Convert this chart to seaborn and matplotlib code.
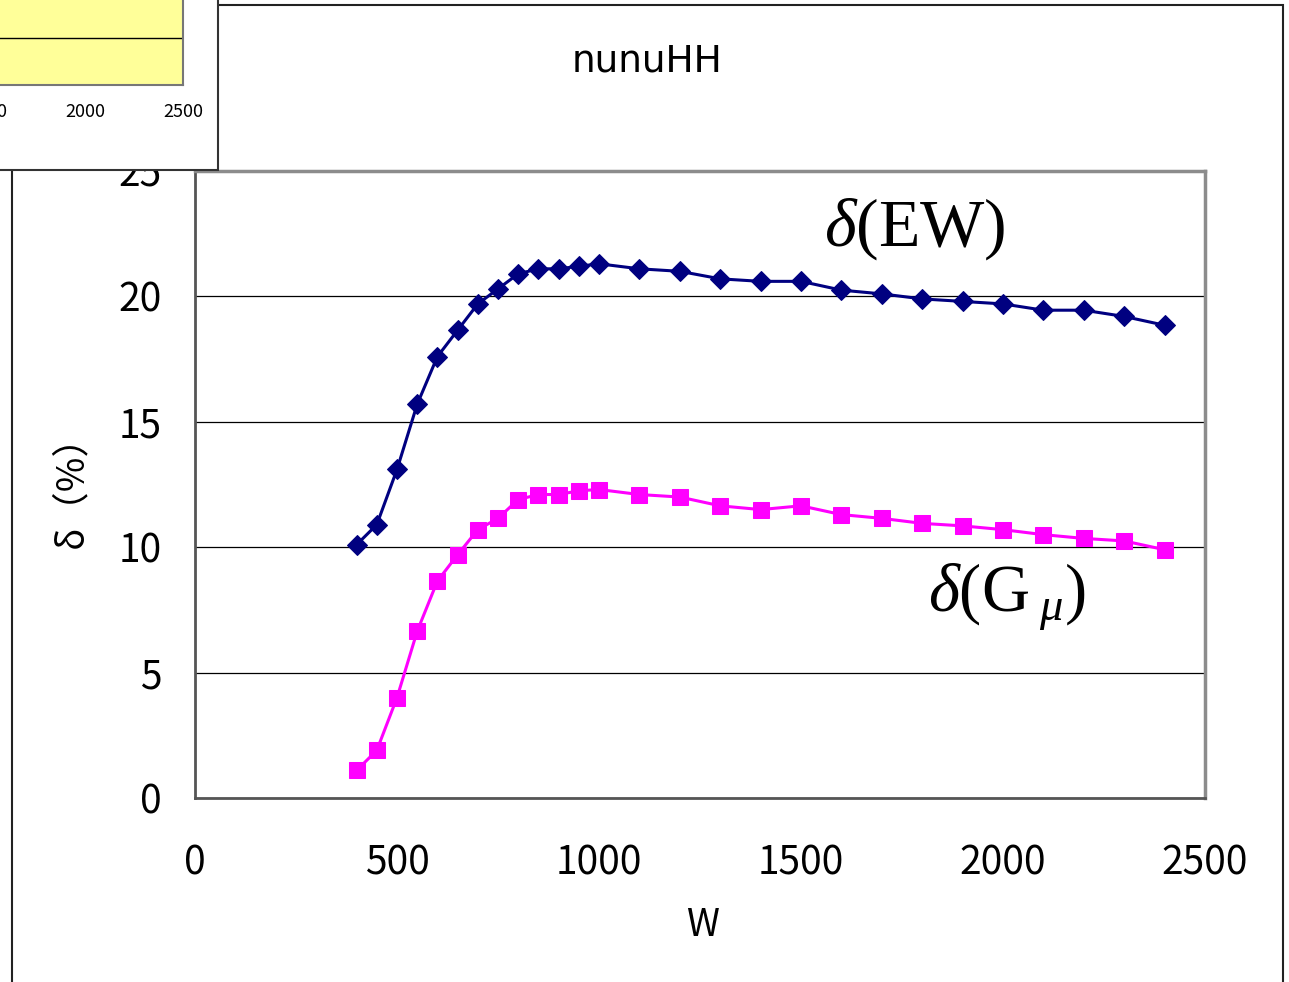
import matplotlib
matplotlib.use("Agg")
import matplotlib.pyplot as plt
from matplotlib.patches import Rectangle
import seaborn as sns
import pandas as pd

# ---- data ----
w_values = [400, 450, 500, 550, 600, 650, 700, 750, 800, 850, 900, 950, 1000,
            1100, 1200, 1300, 1400, 1500, 1600, 1700, 1800, 1900, 2000,
            2100, 2200, 2300, 2400]
delta_ew = [10.1, 10.9, 13.1, 15.7, 17.6, 18.65, 19.7, 20.3, 20.9, 21.1, 21.1, 21.2, 21.3,
            21.1, 21.0, 20.7, 20.6, 20.6, 20.25, 20.1, 19.9, 19.8, 19.7,
            19.45, 19.45, 19.2, 18.85]
delta_gmu = [1.1, 1.9, 4.0, 6.65, 8.65, 9.7, 10.7, 11.15, 11.9, 12.1, 12.1, 12.25, 12.3,
             12.1, 12.0, 11.65, 11.5, 11.65, 11.3, 11.15, 10.95, 10.85, 10.7,
             10.5, 10.35, 10.25, 9.9]
x_ticks = [0, 500, 1000, 1500, 2000, 2500]
y_ticks = [0, 5, 10, 15, 20, 25]
inset_x_ticks = [1500, 2000, 2500]
title_text = "nunuHH"
x_label = "W"
y_label = "δ（%）"

df = pd.DataFrame({"W": w_values, "EW": delta_ew, "Gmu": delta_gmu})

sns.set_style("white")
plt.rcParams["font.family"] = ["Noto Sans CJK JP", "DejaVu Sans"]
plt.rcParams["text.color"] = "black"
plt.rcParams["axes.labelcolor"] = "black"
plt.rcParams["xtick.color"] = "black"
plt.rcParams["ytick.color"] = "black"
plt.rcParams["mathtext.fontset"] = "custom"
plt.rcParams["mathtext.rm"] = "Liberation Serif"
plt.rcParams["mathtext.it"] = "Liberation Serif:italic"

W, H = 1289, 982
fig = plt.figure(figsize=(W / 100, H / 100), dpi=100)
fig.patch.set_facecolor("white")

# main axes
left, right, top, bottom = 195, 1205, 171, 798
ax = fig.add_axes([left / W, 1 - bottom / H, (right - left) / W, (bottom - top) / H])
ax.set_facecolor("white")

sns.lineplot(data=df, x="W", y="EW", ax=ax, color="#000080", marker="D",
             markersize=10, markeredgecolor="#000080", linewidth=2.2, zorder=4)
sns.lineplot(data=df, x="W", y="Gmu", ax=ax, color="#FF00FF", marker="s",
             markersize=12, markeredgecolor="#FF00FF", linewidth=2.2, zorder=4)

ax.set_xlim(0, 2500)
ax.set_ylim(0, 25)
ax.set_xticks(x_ticks)
ax.set_yticks(y_ticks)
ax.grid(axis="y", color="black", linewidth=0.9)
ax.grid(axis="x", visible=False)
ax.tick_params(axis="both", direction="in", length=10, width=1.2, color="#444444",
               labelsize=28, labelcolor="black")
ax.tick_params(axis="y", pad=24)
ax.tick_params(axis="x", pad=33)
for s in ["left", "bottom"]:
    ax.spines[s].set_color("#555555")
    ax.spines[s].set_linewidth(2)
for s in ["top", "right"]:
    ax.spines[s].set_color("#8c8c8c")
    ax.spines[s].set_linewidth(2.5)

ax.set_xlabel(x_label, fontsize=27)
ax.set_ylabel(y_label, fontsize=27)
ax.xaxis.label.set_verticalalignment("center")
ax.xaxis.set_label_coords((702 - left) / (right - left), (bottom - 925) / (bottom - top))
ax.yaxis.label.set_verticalalignment("center")
ax.yaxis.set_label_coords((72 - left) / (right - left), (bottom - 482) / (bottom - top))

ax.text(1557, 22.7, r"$\delta$(EW)", fontsize=49, family="Liberation Serif",
        ha="left", va="center")
ax.text(1815, 8.0, r"$\delta(\mathrm{G}_{\;\mu})$", fontsize=48,
        ha="left", va="center")

fig.text(647 / W, 1 - 62 / H, title_text, fontsize=27, family="DejaVu Sans",
         ha="center", va="center")

# outer chart frame
fig.patches.append(Rectangle((12 / W, -0.05), (1283 - 12) / W, 1.05 - 5 / H,
                             transform=fig.transFigure, facecolor="none",
                             edgecolor="#222222", linewidth=1.5, zorder=1))

# overlapping corner of another chart
fig.patches.append(Rectangle((-0.02, 1 - 170 / H), 0.02 + 218 / W, 170 / H + 0.02,
                             transform=fig.transFigure, facecolor="white",
                             edgecolor="#333333", linewidth=1.5, zorder=5))
ix0 = 85 - 392
iax = fig.add_axes([ix0 / W, 1 - 85 / H, 490 / W, 94 / H], zorder=6)
iax.set_facecolor("#FFFF99")
iax.set_xlim(0, 2500)
iax.set_ylim(0, 10)
iax.set_xticks(inset_x_ticks)
iax.set_yticks([5])
iax.set_yticklabels([])
iax.grid(axis="y", color="black", linewidth=1.0)
iax.grid(axis="x", visible=False)
iax.tick_params(axis="x", direction="in", length=5, width=1, labelsize=13, pad=13,
                labelcolor="black")
iax.tick_params(axis="y", length=0)
for s in ["left", "top"]:
    iax.spines[s].set_visible(False)
for s in ["right", "bottom"]:
    iax.spines[s].set_color("#777777")
    iax.spines[s].set_linewidth(1.5)

fig.savefig("out.png", dpi=100)
